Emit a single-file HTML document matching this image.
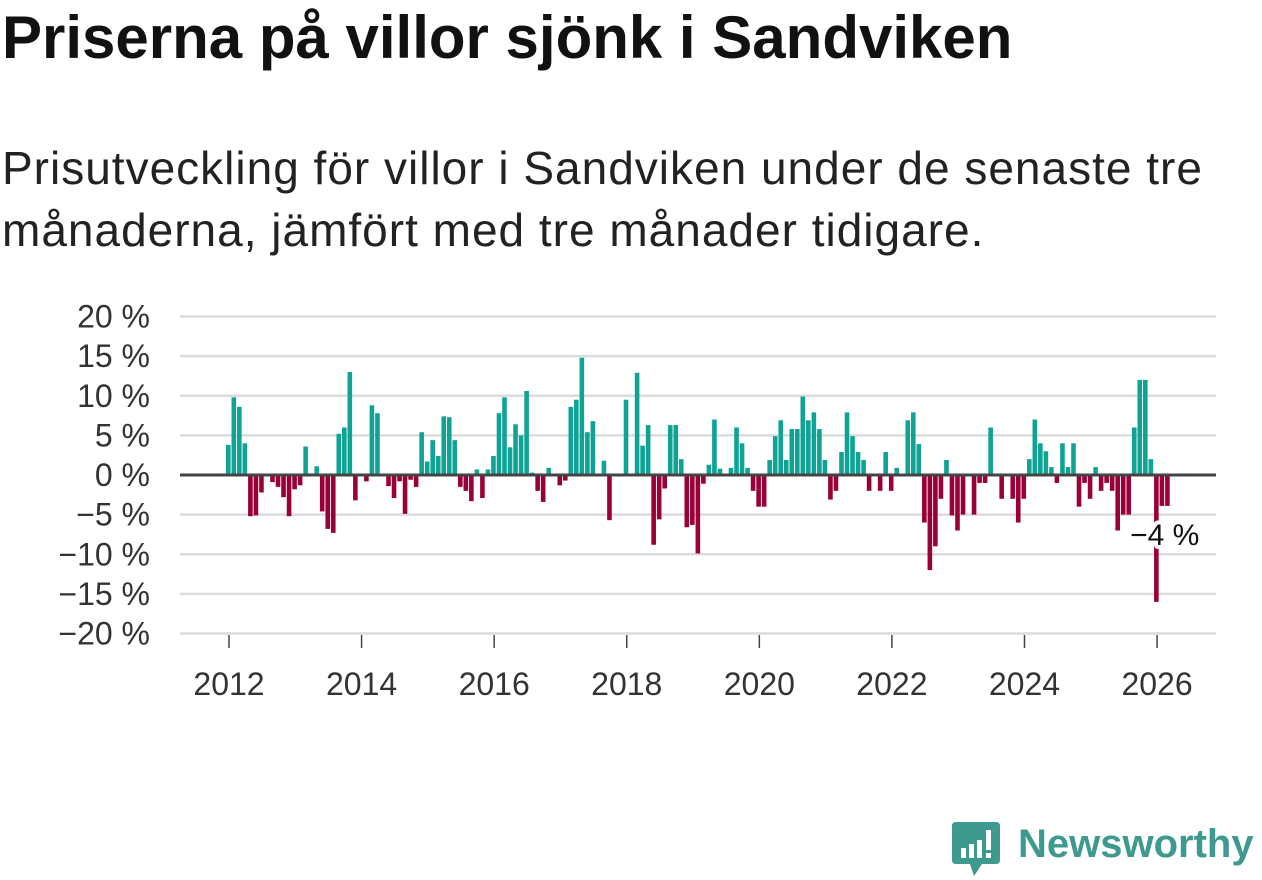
<!DOCTYPE html>
<html><head><meta charset="utf-8"><style>
html,body{margin:0;padding:0;background:#fff;}
body{width:1262px;height:879px;position:relative;overflow:hidden;font-family:"Liberation Sans","DejaVu Sans",sans-serif;color:#111;}
#title{position:absolute;left:2px;top:3px;font-size:60px;line-height:70px;font-weight:bold;margin:0;white-space:nowrap;}
#subtitle{position:absolute;left:2px;top:137px;font-size:46px;letter-spacing:1px;line-height:62px;margin:0;width:1240px;color:#222;}
svg{position:absolute;left:0;top:0;}
</style></head><body>
<h1 id="title">Priserna på villor sjönk i Sandviken</h1>
<p id="subtitle">Prisutveckling för villor i Sandviken under de senaste tre månaderna, jämfört med tre månader tidigare.</p>
<svg id="chart" width="1262" height="879"></svg>
<div style="position:absolute;left:952px;top:820px;width:310px;height:60px;">
<svg width="50" height="58" style="position:absolute;left:0;top:0">
<path d="M4 2 H44 Q48 2 48 6 V40 Q48 44 44 44 H30 L22 56 L18 44 H4 Q0 44 0 40 V6 Q0 2 4 2Z" fill="#3e9a8f"/>
<rect x="9" y="28" width="5" height="10" fill="#fff"/><rect x="17" y="24" width="5" height="14" fill="#fff"/><rect x="25" y="20" width="5" height="18" fill="#fff"/><rect x="34" y="10" width="5" height="20" fill="#fff"/><rect x="34" y="33" width="5" height="5" fill="#fff"/>
</svg>
<span style="position:absolute;left:66px;top:2px;font-size:40px;font-weight:bold;color:#3e9a8f;">Newsworthy</span>
</div>
<script>
const startYear = 2012;
const values = [3.8,9.8,8.6,4,-5.2,-5.1,-2.2,0,-0.9,-1.5,-2.8,-5.2,
-1.8,-1.3,3.6,0.2,1.1,-4.6,-6.8,-7.3,5.2,6,13,-3.2,
0,-0.8,8.8,7.8,0,-1.4,-2.9,-0.8,-4.9,-0.6,-1.5,5.4,
1.7,4.4,2.4,7.4,7.3,4.4,-1.5,-2.0,-3.3,0.7,-2.9,0.7,
2.4,7.8,9.8,3.5,6.4,5,10.6,0.3,-2,-3.4,0.9,0,
-1.3,-0.7,8.6,9.5,14.8,5.4,6.8,0,1.8,-5.7,0,0,
9.5,0,12.9,3.7,6.3,-8.8,-5.6,-1.7,6.3,6.3,2,-6.6,
-6.3,-9.9,-1.1,1.3,7,0.8,0,0.9,6,4,0.9,-2,
-4,-4,1.9,4.9,6.9,1.9,5.8,5.8,9.9,6.9,7.9,5.8,
1.9,-3.1,-2,2.9,7.9,4.9,2.9,1.9,-2,0,-2,2.9,
-2,0.9,0,6.9,7.9,3.9,-6,-12,-9,-3,1.9,-5.1,
-7,-5,0,-5,-1,-1,6,0,-3,0,-3,-6,
-3,2,7,4,3,1,-1,4,1,4,-4,-1,
-3,1,-2,-1,-2,-7,-5,-5,6,12,12,2,
-16,-3.9,-3.9];
const yTicks = [20,15,10,5,0,-5,-10,-15,-20];
const xTickYears = [2012,2014,2016,2018,2020,2022,2024,2026];
const lastLabel = "−4 %";

const NS="http://www.w3.org/2000/svg";
const svg=document.getElementById('chart');
const X0=180,X1=1216,Y20=318,Ym20=635;
function y(v){return 475-(v)*(Ym20-Y20)/40;}
function xYear(d){return 229+(d-2012)*66.29;}
function mk(t,a){const e=document.createElementNS(NS,t);for(const k in a)e.setAttribute(k,a[k]);svg.appendChild(e);return e;}
yTicks.forEach(t=>{
  const g=mk('line',{x1:X0,x2:X1,y1:y(t),y2:y(t),stroke:'#dcdcdc','stroke-width':2.5});
  
  
  const lb=mk('text',{x:150,y:y(t)+11,'text-anchor':'end','font-size':32,fill:'#333','font-family':'Liberation Sans, sans-serif'});
  lb.textContent=(t<0?'−'+(-t):t)+' %';
  
  
});
xTickYears.forEach(yr=>{
  const tk=mk('line',{x1:xYear(yr),x2:xYear(yr),y1:635,y2:648,stroke:'#444','stroke-width':1.5});
  
  
  const lb=mk('text',{x:xYear(yr),y:695,'text-anchor':'middle','font-size':32,fill:'#333','font-family':'Liberation Sans, sans-serif'});
  lb.textContent=yr;
  
  
});
values.forEach((v,i)=>{
  if(v===0)return;
  const cx=xYear(startYear+i/12);
  const r=mk('rect',{x:cx-3,width:4.6,y:Math.min(y(v),y(0)),height:Math.abs(y(v)-y(0)),fill:v>0?'#0ea394':'#9a0038'});
  
  
});
const z=mk('line',{x1:X0,x2:X1,y1:y(0),y2:y(0),stroke:'#444','stroke-width':3});


const lastX=xYear(startYear+(values.length-1)/12);
const lbl=mk('text',{x:lastX-38,y:545,'font-size':30,fill:'#111',stroke:'#fff','stroke-width':8,'paint-order':'stroke','stroke-linejoin':'round','font-family':'Liberation Sans, sans-serif'});
lbl.textContent=lastLabel;


</script>
</body></html>
